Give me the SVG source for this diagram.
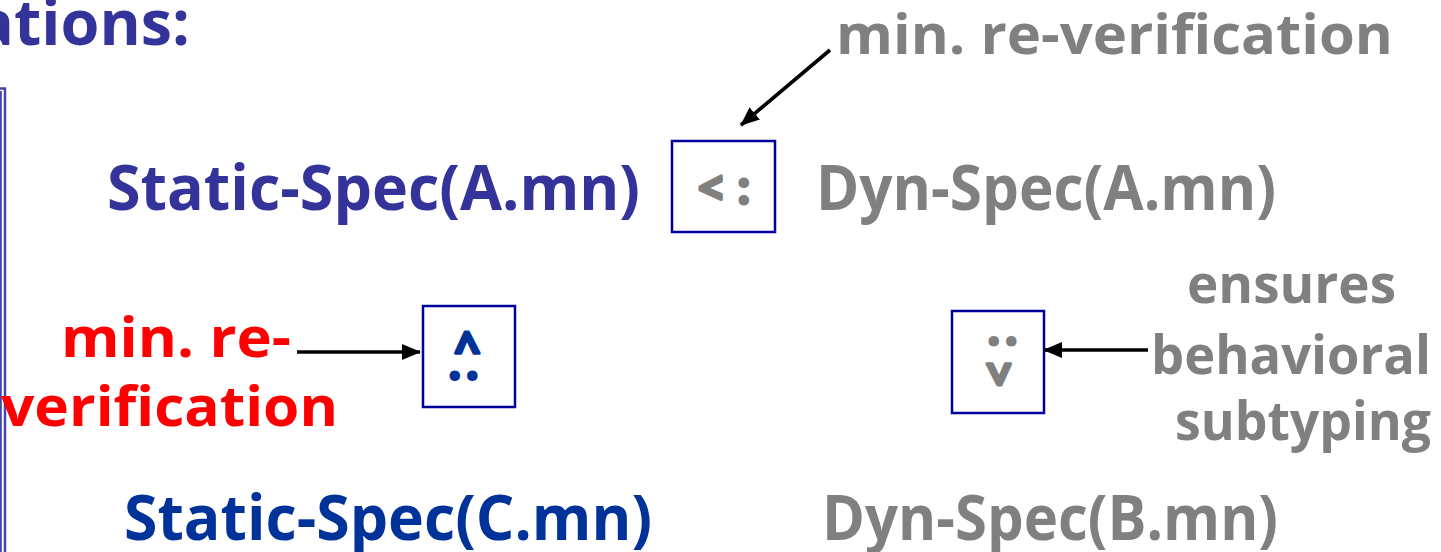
<svg xmlns="http://www.w3.org/2000/svg" width="1441" height="552" viewBox="0 0 1441 552">
<style>
  text { font-family: "Open Sans", "DejaVu Sans", sans-serif; font-weight: bold; }
  .blue { fill: #333399; }
  .blue2 { fill: #003399; }
  .gray { fill: #808080; }
  .red { fill: #ff0000; }
  .box { fill: #ffffff; stroke: #000099; stroke-width: 2.5; }
  .sym { font-size: 44px; text-anchor: middle; stroke-width: 3; stroke-linejoin: round; stroke-linecap: round; }
  .sym.gray { stroke: #808080; }
  .sym.blue2 { stroke: #003399; }
  .conn { stroke: #000000; stroke-width: 3.6; fill: none; marker-end: url(#arrow); }
  .frame { stroke: #4444aa; fill: none; }
</style>
<defs>
  <marker id="arrow" markerUnits="userSpaceOnUse" markerWidth="19" markerHeight="16" refX="18" refY="8" orient="auto">
    <path d="M0,0 L19,8 L0,16 z" fill="#000000"/>
  </marker>
</defs>
<rect width="1441" height="552" fill="#ffffff"/>

<g id="frame">
  <path class="frame" d="M-5,88.5 H5 V552" stroke-width="2.5"/>
  <path class="frame" d="M0.8,91 V552" stroke-width="2"/>
</g>

<g id="title">
  <text class="blue" x="-24" y="45" font-size="62" textLength="214" lengthAdjust="spacingAndGlyphs">ations:</text>
</g>

<g id="static-a">
  <text class="blue" x="107" y="210" font-size="63" textLength="533" lengthAdjust="spacingAndGlyphs">Static-Spec(A.mn)</text>
</g>

<g id="box-top">
  <rect class="box" x="672" y="141" width="103" height="91"/>
  <text class="sym gray" transform="translate(724,188)" x="0" y="16" textLength="52" lengthAdjust="spacing">&lt;:</text>
</g>

<g id="dyn-a">
  <text class="gray" x="816" y="210" font-size="63" textLength="460" lengthAdjust="spacingAndGlyphs">Dyn-Spec(A.mn)</text>
</g>

<g id="note-top">
  <text class="gray" x="836" y="54" font-size="55" textLength="557" lengthAdjust="spacingAndGlyphs">min. re-verification</text>
</g>

<g id="note-left">
  <text class="red" x="61" y="357" font-size="55" textLength="230" lengthAdjust="spacingAndGlyphs">min. re-</text>
  <text class="red" x="1" y="426" font-size="55" textLength="337" lengthAdjust="spacingAndGlyphs">verification</text>
</g>

<g id="box-left">
  <rect class="box" x="423" y="306" width="92" height="101"/>
  <text class="sym blue2" transform="translate(467,356) rotate(90)" x="0" y="16" textLength="52" lengthAdjust="spacing">&lt;:</text>
</g>

<g id="box-right">
  <rect class="box" x="952" y="311" width="92" height="102"/>
  <text class="sym gray" transform="translate(999,361) rotate(-90)" x="0" y="16" textLength="52" lengthAdjust="spacing">&lt;:</text>
</g>

<g id="note-right">
  <text class="gray" x="1187" y="303" font-size="54" textLength="209" lengthAdjust="spacingAndGlyphs">ensures</text>
  <text class="gray" x="1151" y="374" font-size="54" textLength="280" lengthAdjust="spacingAndGlyphs">behavioral</text>
  <text class="gray" x="1175" y="440" font-size="54" textLength="256" lengthAdjust="spacingAndGlyphs">subtyping</text>
</g>

<g id="static-c">
  <text class="blue2" x="124" y="540" font-size="63" textLength="528" lengthAdjust="spacingAndGlyphs">Static-Spec(C.mn)</text>
</g>

<g id="dyn-b">
  <text class="gray" x="822" y="540" font-size="63" textLength="456" lengthAdjust="spacingAndGlyphs">Dyn-Spec(B.mn)</text>
</g>

<g id="connectors">
  <line class="conn" x1="830" y1="50" x2="741" y2="125"/>
  <line class="conn" x1="297" y1="352" x2="420" y2="352"/>
  <line class="conn" x1="1148" y1="350" x2="1044" y2="350"/>
</g>
</svg>
